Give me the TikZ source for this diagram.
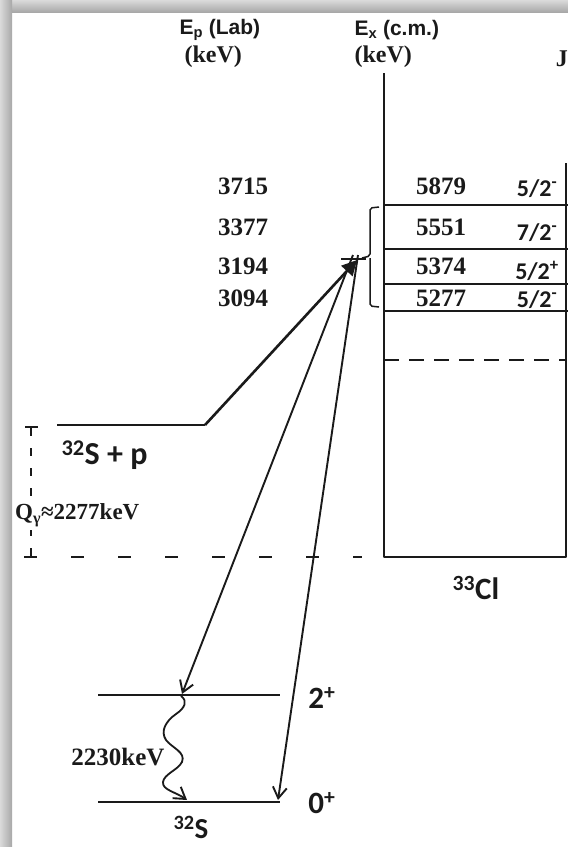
\documentclass[tikz,border=0pt]{standalone}
\usepackage{fontspec}
\setmainfont{Liberation Serif}
\setsansfont{Liberation Sans}
\newfontfamily\calfont{Carlito}
\usetikzlibrary{arrows.meta}
\definecolor{lvlInk}{HTML}{1A1A1A}
\definecolor{shadeLo}{HTML}{DADADA}
\definecolor{shadeHi}{HTML}{A8A8A8}

\begin{document}
\begin{tikzpicture}[x=1pt,y=-1pt,line join=round]
\useasboundingbox (0,0) rectangle (568,847);
\fill[white] (0,0) rectangle (568,847);
\shade[top color=shadeLo,bottom color=shadeHi] (0,0) rectangle (568,12);
\shade[left color=shadeLo,right color=shadeHi] (0,0) rectangle (12,847);
\tikzset{level/.style={draw=lvlInk,line width=2.6pt},thinlevel/.style={draw=lvlInk,line width=1.6pt},box/.style={draw=lvlInk,line width=1.8pt},qdash/.style={draw=lvlInk,line width=2pt,dash pattern=on 13pt off 34pt},
  num/.style={font=\bfseries\fontsize{25}{25}\selectfont,text=lvlInk},spin/.style={font=\calfont\bfseries\fontsize{24}{24}\selectfont,text=lvlInk},big/.style={font=\calfont\bfseries\fontsize{32}{32}\selectfont,text=lvlInk},
  head/.style={font=\sffamily\bfseries\fontsize{21}{21}\selectfont,text=lvlInk,anchor=west},gam/.style={draw=lvlInk,line width=1.9pt,-{Straight Barb[length=11pt,width=14pt,line width=1.9pt]}}}
\node[head] (eplab) at (176,30) {E\textsubscript{p} (Lab)};
\node[num,anchor=west,font=\bfseries\fontsize{24}{24}\selectfont] (epkev) at (181,57) {(keV)};
\node[head] (excm) at (351,30) {E\textsubscript{x} (c.m.)};
\node[num,anchor=west,font=\bfseries\fontsize{24}{24}\selectfont] (exkev) at (351,57) {(keV)};
\node[num,anchor=east,inner xsep=0pt,font=\bfseries\fontsize{24}{24}\selectfont] (jpi) at (568,59) {J};
\draw[box] (384,73) -- (384,557) -- (566,557) -- (566,163);
\draw[level] (384,205) -- (568,205);
\draw[level] (384,249) -- (568,249);
\draw[level] (384,284) -- (568,284);
\draw[thinlevel] (384,311) -- (568,311);
\draw[box,line width=2.2pt,dash pattern=on 15pt off 10pt] (384,360) -- (566,360);
\node[num] (ep1) at (243,186) {3715}; \node[num] (ex1) at (441,186) {5879}; \node[spin] (j1) at (537,189) {5/2\textsuperscript{-}};
\node[num] (ep2) at (243,227) {3377}; \node[num] (ex2) at (441,227) {5551}; \node[spin] (j2) at (537,233) {7/2\textsuperscript{-}};
\node[num] (ep3) at (243,266) {3194}; \node[num] (ex3) at (441,266) {5374}; \node[spin] (j3) at (537,271) {5/2\textsuperscript{+}};
\node[num] (ep4) at (243,298) {3094}; \node[num] (ex4) at (441,298) {5277}; \node[spin] (j4) at (537,300) {5/2\textsuperscript{-}};
\draw[thinlevel,line width=1.5pt,rounded corners=2pt] (379,207) -- (370,208) -- (370,256) -- (362,258) (370,258) -- (370,306) -- (379,307);
\draw[thinlevel,line width=1.8pt] (341,259) -- (366,259);
\coordinate (hub) at (357,260);
\coordinate (spend) at (205,425);
\draw[level,line width=2.2pt] (57,425) -- (spend);
\node[big,anchor=west] (spp) at (58,455) {\textsuperscript{32}S + p};
\draw[box,line width=1.8pt,dash pattern=on 8pt off 12pt] (31,428) -- (31,557);
\draw[box,line width=1.8pt] (25,427) -- (38,427);
\draw[qdash,dash phase=-2pt] (22,557) -- (362,557);
\node[num,anchor=west,font=\bfseries\fontsize{23}{23}\selectfont,fill=white,inner xsep=0pt] (qval) at (15,515) {Q\textsubscript{γ}≈2277keV};
\node[big,font=\calfont\bfseries\fontsize{31}{31}\selectfont] (cl) at (476,588) {\textsuperscript{33}Cl};
\draw[level,line width=2.3pt] (98,695) -- (280,695);
\draw[level,line width=2.3pt] (98,802) -- (280,802);
\node[big,font=\calfont\bfseries\fontsize{31}{31}\selectfont] (two) at (322,698) {2\textsuperscript{+}};
\node[big,font=\calfont\bfseries\fontsize{31}{31}\selectfont] (zero) at (322,803) {0\textsuperscript{+}};
\node[big,font=\calfont\bfseries\fontsize{29}{29}\selectfont,inner sep=0pt] (s32) at (191,827) {\textsuperscript{32}S};
\coordinate (tgt2) at (182,694);
\coordinate (tgt0) at (278,800);
\draw[draw=lvlInk,line width=2.6pt,-{Triangle[length=15pt,width=15pt]}] (spend) -- (hub);
\draw[gam] ([xshift=-4pt,yshift=5pt]hub) -- (tgt2);
\draw[gam] ([xshift=1pt,yshift=5pt]hub) -- (tgt0);
\coordinate (wtop) at (181,696);
\coordinate (wbot) at (187,800);
\draw[gam,line width=1.8pt] (wtop) .. controls (188,701) and (185,708) .. (176,714) .. controls (166,721) and (160,731) .. (166,740) .. controls (172,748) and (186,752) .. (182,762) .. controls (178,770) and (164,774) .. (163,782) .. controls (162,790) and (176,792) .. (wbot);
\node[num,font=\bfseries\fontsize{25}{25}\selectfont,anchor=east] (gline) at (168,757) {2230keV};
\end{tikzpicture}
\end{document}
